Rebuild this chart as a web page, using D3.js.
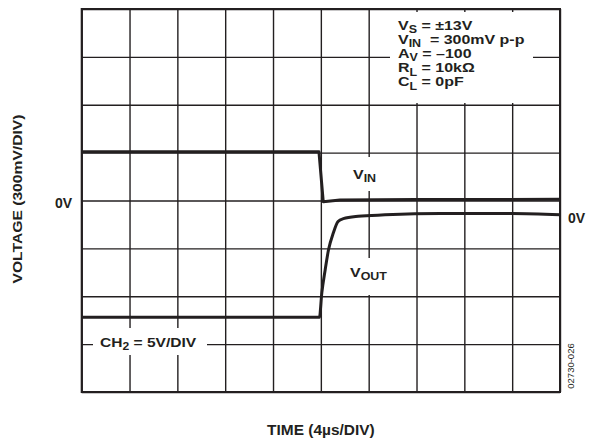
<!DOCTYPE html>
<html>
<head>
<meta charset="utf-8">
<script src="https://cdn.jsdelivr.net/npm/d3@7/dist/d3.min.js"></script>
<style>
  html, body { margin: 0; padding: 0; background: #fff; }
  svg { display: block; font-family: "Liberation Sans", Arial, Helvetica, sans-serif; }
</style>
</head>
<body>
<svg id="chart" width="598" height="440"></svg>
<script>
// ---- data (time in divisions, voltage in divisions) ----
const xTicks = [0, 1, 2, 3, 4, 5, 6, 7, 8, 9, 10];
const yTicks = [-4, -3, -2, -1, 0, 1, 2, 3, 4];
const vinTime = [0, 4.96, 5.05, 5.4, 7, 10];
const vinVolt = [1.02, 1.02, -0.025, 0.01, 0.02, 0.025];
const voutTime = [0, 4.97, 5.02, 5.09, 5.16, 5.26, 5.36, 5.47, 5.78, 6.34, 7.5, 9, 10];
const voutVolt = [-2.44, -2.44, -1.93, -1.45, -1.03, -0.68, -0.44, -0.38, -0.33, -0.30, -0.27, -0.27, -0.30];
const paramLines = [
  ["V", "S", " = \u00B113V"],
  ["V", "IN", "  = 300mV p-p"],
  ["A", "V", " = \u2013100"],
  ["R", "L", " = 10k\u03A9"],
  ["C", "L", " = 0pF"]
];

const svg = d3.select("#chart");
const pL = 81.7, pR = 560, pT = 9, pB = 392;
const x = d3.scaleLinear().domain([0, 10]).range([pL, pR]);
const y = d3.scaleLinear().domain([-4, 4]).range([pB, pT]);
const ink = "#231f20";

// grid via axes
const gx = svg.append("g").attr("transform", `translate(0,${pB})`)
  .call(d3.axisBottom(x).tickValues(xTicks).tickSize(-(pB - pT)).tickFormat(""));
const gy = svg.append("g").attr("transform", `translate(${pL},0)`)
  .call(d3.axisLeft(y).tickValues(yTicks).tickSize(-(pR - pL)).tickFormat(""));
[gx, gy].forEach(g => {
  g.select(".domain").remove();
  g.selectAll(".tick line").attr("stroke", ink).attr("stroke-width", 1.4);
});

// white label boxes covering grid
const boxes = [
  [390, 12, 143, 91],
  [93, 328, 114, 27],
  [348, 157, 40, 34],
  [345, 258, 50, 37]
];
svg.selectAll("rect.box").data(boxes).enter().append("rect")
  .attr("class", "box")
  .attr("x", d => d[0]).attr("y", d => d[1]).attr("width", d => d[2]).attr("height", d => d[3])
  .attr("fill", "#fff");

// border
svg.append("rect").attr("x", pL).attr("y", pT).attr("width", pR - pL).attr("height", pB - pT)
  .attr("fill", "none").attr("stroke", ink).attr("stroke-width", 2);

// traces
const vinLine = d3.line().x(d => x(d[0])).y(d => y(d[1])).curve(d3.curveLinear);
const voutLine = d3.line().x(d => x(d[0])).y(d => y(d[1])).curve(d3.curveMonotoneX);
svg.append("path").datum(vinTime.map((t, i) => [t, vinVolt[i]]))
  .attr("d", vinLine).attr("fill", "none").attr("stroke", ink).attr("stroke-width", 3).attr("stroke-linejoin", "round");
svg.append("path").datum(voutTime.map((t, i) => [t, voutVolt[i]]))
  .attr("d", voutLine).attr("fill", "none").attr("stroke", ink).attr("stroke-width", 3).attr("stroke-linejoin", "round");

// helper for (horizontally widened) labels with optional subscript
function label(xp, yp, sx, size, main, sub, rest, rot) {
  const g = svg.append("g").attr("transform",
    `translate(${xp},${yp})` + (rot ? ` rotate(${rot})` : "") + ` scale(${sx},1)`);
  const t = g.append("text").attr("x", 0).attr("y", 0)
    .attr("font-size", size).attr("font-weight", "bold").attr("fill", ink)
    .style("white-space", "pre");
  t.append("tspan").text(main);
  if (sub) {
    t.append("tspan").attr("font-size", size * 0.78).attr("dy", 3.5).text(sub);
    if (rest) t.append("tspan").attr("dy", -3.5).text(rest);
  }
  return t;
}

// parameter block
paramLines.forEach((l, i) => {
  label(398, 29.5 + i * 14.2, 1.2, 13.3, l[0], l[1], l[2]);
});

// CH2 label
label(100, 346.5, 1.17, 13.3, "CH", "2", " = 5V/DIV");

// trace labels
label(353, 178.5, 1.2, 13.3, "V", "IN", "");
label(350, 276.5, 1.2, 13.3, "V", "OUT", "");

// 0V labels
label(55, 208, 1.0, 14, "0V");
label(568, 223, 1.0, 14, "0V");

// axis titles
label(21.5, 199, 1.16, 13.5, "VOLTAGE (300mV/DIV)", null, null, -90).attr("text-anchor", "middle");
label((pL + pR) / 2, 435, 1.12, 13.8, "TIME (4\u00B5s/DIV)").attr("text-anchor", "middle");

// figure id
svg.append("text").attr("transform", "translate(573.5,366) rotate(-90)").attr("text-anchor", "middle")
  .attr("font-size", 9.5).attr("fill", ink).text("02730-026");
</script>
</body>
</html>
